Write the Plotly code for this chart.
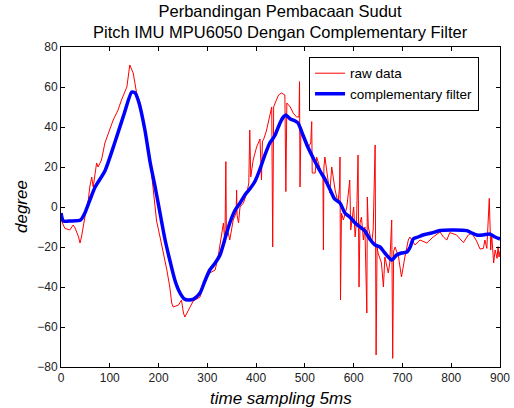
import plotly.graph_objects as go

# raw data (red)
raw_x = [0, 8, 18, 25, 29, 36, 39, 42, 49, 56, 59, 63, 66, 70, 73, 76, 83, 90, 97, 107,
         117, 124, 135, 141, 148, 155, 162, 172, 182, 189, 196, 203, 210, 217, 223, 227, 230, 241, 247, 251,
         254, 264, 271, 285, 295, 305, 316, 322, 329, 333, 336, 338, 339, 343, 346, 353, 359, 360, 361, 364,
         367, 374, 381, 385, 387, 389, 394, 401, 408, 411, 413, 415, 421, 428, 432, 434, 436, 439, 446, 452,
         459, 461, 463, 470, 476, 483, 488, 489, 490, 492, 494, 500, 507, 512, 514, 515, 521, 524, 534, 537,
         538, 539, 541, 548, 551, 555, 562, 568, 571, 572, 573, 575, 579, 586, 592, 594, 600, 603, 606, 609,
         611, 613, 616, 620, 623, 627, 628, 630, 633, 637, 640, 644, 646, 648, 650, 657, 661, 664, 671, 674,
         678, 680, 682, 685, 692, 698, 705, 712, 715, 726, 736, 750, 763, 777, 784, 791, 797, 811, 825, 835,
         842, 852, 859, 866, 869, 873, 878, 881, 883, 887, 890, 894, 896, 898, 900]
raw_y = [-6.5, -10.7, -11.5, -9, -10.5, -15, -18, -15, -5, 3.5, 10, 15, 10, 17, 22, 20, 23.5, 32, 37, 43.5,
         48.5, 53.5, 60, 71, 67, 57, 52, 40, 25, 8, -7, -15, -23, -31.5, -40, -48, -50, -49, -46.5, -53,
         -55, -50, -47, -45, -36.5, -33, -31.5, -25, -15, -8, -18, 22.7, -12, -13, -16.5, -6.5, -3, 8.5, -4, -8,
         0, 2, 7, 12, 38.5, 15, 23.5, 30, 34, 13.5, 33, 33.5, 38, 45, 50, -20, 50, 52, 56, 57,
         56, 7.7, 52, 50, 47, 45, 45, 62.7, 10, 40, 38.5, 33.5, 30, 32, 42.7, 17, 17, 25, 17, 15,
         -21.5, 20, 25, 13.5, 7, 20, 8.5, 2, 10, 25, -46.5, -3, -6.5, 0, 13.5, -11.5, 0, -15, -6.5, 26,
         -40, -8, -5, -16.5, -10, -53, 5, -10, -13, -18, -11.5, 31, -74, -20, -23, -28, -40, -25, -33, -28,
         -6.5, -75.7, -22, -20, -25, -35, -25, -16.5, -15, -19, -16.5, -18, -15, -12.5, -15, -16.5, -12.8, -14, -17.8, -14,
         -13, -17, -21, -20.7, -16.5, -20.7, 4.3, -21.5, -14, -28, -21.5, -25.7, -19.8, -25, -22]

# complementary filter (blue)
cf_x = [0, 5, 20, 40, 49, 60, 70, 90, 110, 130, 145, 152, 160, 172, 183, 193, 203, 213, 223, 234,
        244, 253, 261, 272, 285, 295, 305, 316, 326, 336, 346, 356, 367, 377, 387, 398, 408, 418, 428, 434,
        439, 449, 456, 461, 470, 480, 486, 496, 506, 518, 531, 541, 551, 561, 572, 582, 592, 603, 613, 623,
        633, 644, 654, 664, 678, 688, 698, 709, 716, 722, 732, 742, 760, 777, 800, 832, 842, 852, 865, 879,
        890, 900]
cf_y = [-3, -7, -7, -6.5, -3, 4, 10, 18, 32, 47, 57.5, 57, 52, 38.5, 22, 10, -3, -16, -26.5, -37,
        -43, -46, -46.5, -46, -43, -37, -31.5, -28, -24, -16, -8, -2, 2, 6, 9, 13, 19, 26, 32, 34,
        36, 42, 45, 46, 44, 43, 42, 36, 30, 24, 18, 14, 9, 4, 2, -3, -5, -8, -10, -12,
        -16, -19, -20, -23, -26.5, -24, -23, -22.5, -20, -16, -15, -14, -13, -11.8, -11.5, -11.8, -13, -14, -14, -13.5,
        -15, -16]

x_ticks = [0, 100, 200, 300, 400, 500, 600, 700, 800, 900]
y_ticks = [-80, -60, -40, -20, 0, 20, 40, 60, 80]

FONT = "Liberation Sans, Arial, sans-serif"

fig = go.Figure()
fig.add_trace(go.Scatter(x=raw_x, y=raw_y, mode="lines", name="raw data",
                         line=dict(color="#ff0000", width=1)))
fig.add_trace(go.Scatter(x=cf_x, y=cf_y, mode="lines", name="complementary filter",
                         line=dict(color="#0000ff", width=3.5, shape="spline", smoothing=0.6)))

axis_common = dict(showgrid=False, zeroline=False, showline=True, linecolor="black", linewidth=1,
                   mirror="ticks", ticks="inside", ticklen=4, tickcolor="black", automargin=False,
                   tickfont=dict(family=FONT, size=12, color="#222222"))

fig.update_layout(
    width=514, height=408,
    margin=dict(l=61, r=14, t=47, b=41),
    paper_bgcolor="white", plot_bgcolor="white",
    font=dict(family=FONT, color="black"),
    xaxis=dict(range=[0, 900], tickvals=x_ticks, **axis_common),
    yaxis=dict(range=[-80, 80], tickvals=y_ticks, **axis_common),
    legend=dict(x=0.565, y=0.969, xanchor="left", yanchor="top",
                bordercolor="black", borderwidth=1, bgcolor="white",
                font=dict(family=FONT, size=13.5, color="black"),
                tracegroupgap=0),
    showlegend=True,
    annotations=[
        dict(text="Perbandingan Pembacaan Sudut<br>Pitch IMU MPU6050 Dengan Complementary Filter",
             xref="paper", yref="paper", x=0.5, y=1, xanchor="center", yanchor="bottom",
             yshift=4, showarrow=False, font=dict(family=FONT, size=16.5, color="black")),
        dict(text="<i>time sampling 5ms</i>", xref="paper", yref="paper", x=0.5, y=0,
             xanchor="center", yanchor="middle", yshift=-31, showarrow=False,
             font=dict(family=FONT, size=17, color="black")),
        dict(text="<i>degree</i>", xref="paper", yref="paper", x=0, y=0.5,
             xanchor="center", yanchor="middle", xshift=-40, textangle=-90, showarrow=False,
             font=dict(family=FONT, size=17, color="black")),
    ],
)

fig.write_html("out.html", config={"displayModeBar": False},
               post_script="document.body.style.margin='0';")
